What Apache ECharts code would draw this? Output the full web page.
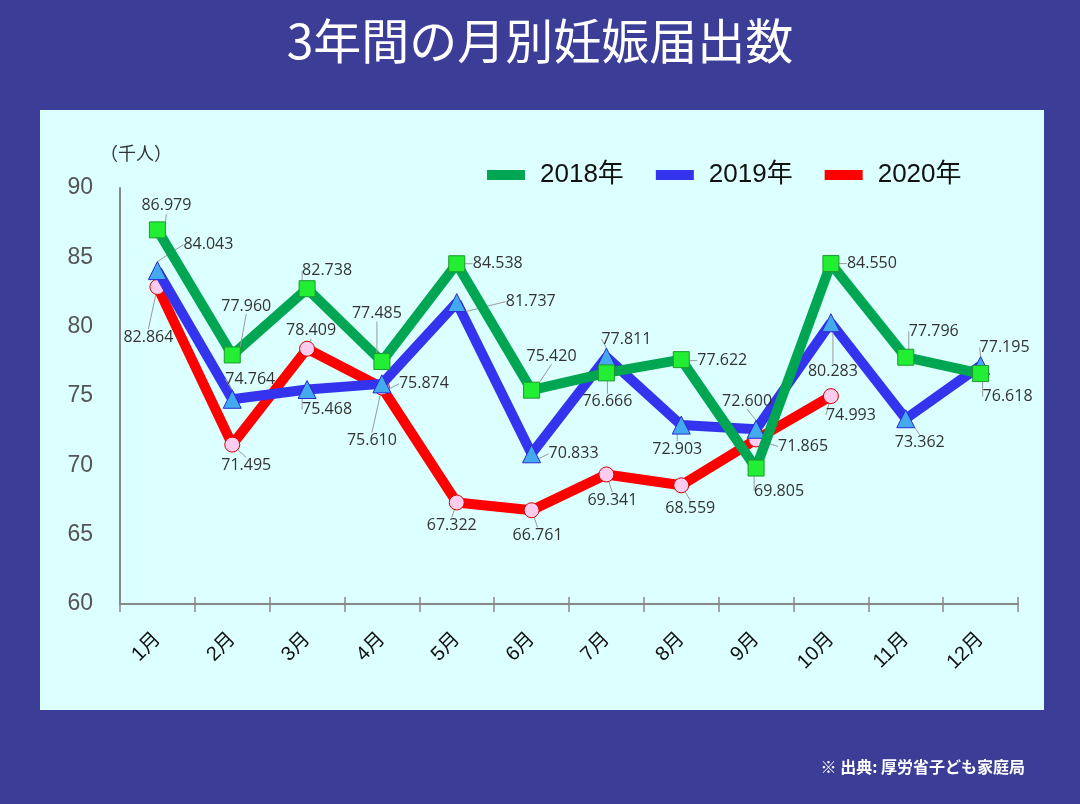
<!DOCTYPE html>
<html>
<head>
<meta charset="utf-8">
<script src="https://cdn.jsdelivr.net/npm/echarts@6/dist/echarts.min.js"></script>
<style>
html,body{margin:0;padding:0;background:#3b3d96;}
#chart{width:1080px;height:804px;}
</style>
</head>
<body>
<div id="chart"></div>
<script>
// ---- data ----
const categories = ['1月','2月','3月','4月','5月','6月','7月','8月','9月','10月','11月','12月'];
const seriesNames = ['2018年','2019年','2020年'];
const data2018 = [86.979, 77.960, 82.738, 77.485, 84.538, 75.420, 76.666, 77.622, 69.805, 84.550, 77.796, 76.618];
const data2019 = [84.043, 74.764, 75.468, 75.874, 81.737, 70.833, 77.811, 72.903, 72.600, 80.283, 73.362, 77.195];
const data2020 = [82.864, 71.495, 78.409, 75.610, 67.322, 66.761, 69.341, 68.559, 71.865, 74.993];
const yTicks = {min: 60, max: 90, interval: 5};

// ---- label placement (pixel offsets from point) ----
const labelOffsets = [
  [[9,-24],[14,-49],[20,-18],[-5,-48],[41,0],[20,-34],[1,29],[41,1],[23,23],[41,0],[28,-26],[27,23]],
  [[51,-26],[18,-20],[20,20],[42,0],[74,-1],[42,0],[20,-18],[-4,24],[-9,-28],[2,49],[14,24],[24,-18]],
  [[-9,50],[14,21],[4,-18],[-10,53],[-5,23],[6,25],[6,26],[9,23],[47,7],[20,19]]
];

const lineColors = ['#00a651','#3434ee','#ff0000'];
const markerFill = ['#22ee33','#44aaf0','#ffccee'];
const markerBorder = ['#1d9a2e','#2a2ad0','#d40000'];
const symbols = ['rect','triangle','circle'];
const symbolSizes = [16,18,15];
const legendTextPad = [[0,0,0,10],[0,10,0,10],[0,0,0,10]];
const allData = [data2018, data2019, data2020];

const chart = echarts.init(document.getElementById('chart'));

const series = allData.map((d, s) => ({
  name: seriesNames[s],
  type: 'line',
  data: d,
  symbol: symbols[s],
  symbolSize: symbolSizes[s],
  showAllSymbol: true,
  z: 2 + (2 - s),
  lineStyle: {color: lineColors[s], width: 10},
  itemStyle: {color: markerFill[s], borderColor: markerBorder[s], borderWidth: 1},
  label: {
    show: true,
    position: 'inside',
    color: '#333',
    fontSize: 16,
    fontFamily: '"Open Sans", "Noto Sans", sans-serif',
    formatter: p => p.value.toFixed(3)
  },
  labelLine: {show: true, lineStyle: {color: '#9a9a9a', width: 1}},
  labelLayout: p => {
    const o = labelOffsets[s][p.dataIndex];
    return {dx: o[0], dy: o[1]};
  },
  emphasis: {disabled: true},
  animation: false
}));

chart.setOption({
  animation: false,
  backgroundColor: '#3b3d96',
  graphic: [
    {type: 'rect', left: 40, top: 110, shape: {width: 1004, height: 600}, style: {fill: '#dcffff'}, z: -10, silent: true},
    {type: 'text', left: 100, top: 144, style: {text: '（千人）', fill: '#333', font: '18px "Noto Sans CJK JP"'}},
    {type: 'text', right: 55, top: 759, style: {text: '※ 出典: 厚労省子ども家庭局', fill: '#ffffff', font: 'bold 16px "Noto Sans CJK JP"'}}
  ],
  title: {
    text: '3年間の月別妊娠届出数',
    left: 'center',
    top: 12,
    textStyle: {color: '#ffffff', fontSize: 48, fontWeight: 'normal', fontFamily: '"Noto Sans CJK JP", sans-serif'}
  },
  legend: {
    left: 487,
    top: 162,
    padding: 0,
    icon: 'rect',
    itemWidth: 38,
    itemHeight: 10,
    itemGap: 32,
    textStyle: {fontSize: 26, color: '#111', fontFamily: '"Liberation Sans", Arial, "Noto Sans CJK JP"'},
    data: seriesNames.map((n, i) => ({
      name: n,
      itemStyle: {color: lineColors[i], borderWidth: 0},
      textStyle: {padding: legendTextPad[i]}
    }))
  },
  grid: {left: 120, right: 62, top: 188, bottom: 200, containLabel: false},
  xAxis: [
    {
      type: 'category',
      data: categories,
      boundaryGap: true,
      axisLine: {lineStyle: {color: '#888', width: 2}},
      axisTick: {show: true, length: 8, lineStyle: {color: '#888', width: 1.5}},
      axisLabel: {rotate: 45, margin: 32, fontSize: 20, color: '#111', fontFamily: '"Liberation Sans", Arial, "Noto Sans CJK JP"', interval: 0},
      splitLine: {show: false}
    },
    {
      type: 'category',
      data: categories,
      boundaryGap: true,
      position: 'bottom',
      axisLine: {show: false},
      axisTick: {show: true, inside: true, length: 7, lineStyle: {color: '#888', width: 1.5}},
      axisLabel: {show: false},
      splitLine: {show: false}
    }
  ],
  yAxis: {
    type: 'value',
    min: yTicks.min,
    max: yTicks.max,
    interval: yTicks.interval,
    axisLine: {show: true, lineStyle: {color: '#888', width: 2}},
    axisTick: {show: false},
    splitLine: {show: false},
    axisLabel: {margin: 27, fontSize: 23, color: '#555', fontFamily: '"Liberation Sans", Arial, sans-serif'}
  },
  series: series
});
</script>
</body>
</html>
